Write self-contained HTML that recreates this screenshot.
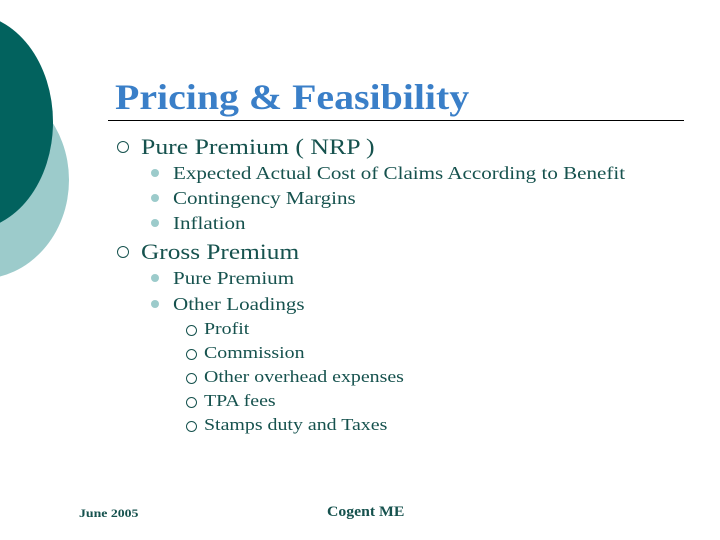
<!DOCTYPE html>
<html><head><meta charset="utf-8"><style>
body{margin:0}
#s{position:relative;width:720px;height:540px;background:#fff;overflow:hidden;font-family:"Liberation Serif",serif;color:#16524e}
.t{position:absolute;white-space:nowrap;line-height:1;transform-origin:0 0;transform:scaleX(1.17)}
.l1{font-size:22px}
.l2{font-size:18px}
.l3{font-size:17px}
.b1{position:absolute;width:10px;height:10px;border:1px solid #16524e;border-radius:50%}
.b2{position:absolute;width:8px;height:8px;background:#9ccbcb;border-radius:50%}
.b3{position:absolute;width:9px;height:9px;border:1px solid #16524e;border-radius:50%}
</style></head><body>
<div id="s">
<svg width="720" height="540" style="position:absolute;left:0;top:0">
<ellipse cx="-20" cy="180" rx="89" ry="99" fill="#9ccbcb"/>
<ellipse cx="-30" cy="122" rx="83" ry="108" fill="#02625e"/>
<line x1="108" y1="120.5" x2="684" y2="120.5" stroke="#000" stroke-width="1"/>
</svg>
<div class="t" style="left:115px;top:79px;font-size:36px;font-weight:bold;color:#3a7fc8;transform:scaleX(1.107)">Pricing &amp; Feasibility</div>
<div class="b1" style="left:117px;top:141px"></div>
<div class="t l1" style="left:141px;top:136px">Pure Premium ( NRP )</div>
<div class="b2" style="left:151px;top:169px"></div>
<div class="t l2" style="left:173px;top:164px">Expected Actual Cost of Claims According to Benefit</div>
<div class="b2" style="left:151px;top:194px"></div>
<div class="t l2" style="left:173px;top:189px">Contingency Margins</div>
<div class="b2" style="left:151px;top:219px"></div>
<div class="t l2" style="left:173px;top:214px">Inflation</div>
<div class="b1" style="left:117px;top:246px"></div>
<div class="t l1" style="left:141px;top:241px;transform:scaleX(1.15)">Gross Premium</div>
<div class="b2" style="left:151px;top:274px"></div>
<div class="t l2" style="left:173px;top:269px">Pure Premium</div>
<div class="b2" style="left:151px;top:300px"></div>
<div class="t l2" style="left:173px;top:295px">Other Loadings</div>
<div class="b3" style="left:186px;top:325px"></div>
<div class="t l3" style="left:204px;top:320px">Profit</div>
<div class="b3" style="left:186px;top:349px"></div>
<div class="t l3" style="left:204px;top:344px">Commission</div>
<div class="b3" style="left:186px;top:373px"></div>
<div class="t l3" style="left:204px;top:368px">Other overhead expenses</div>
<div class="b3" style="left:186px;top:397px"></div>
<div class="t l3" style="left:204px;top:392px">TPA fees</div>
<div class="b3" style="left:186px;top:421px"></div>
<div class="t l3" style="left:204px;top:416px">Stamps duty and Taxes</div>
<div class="t" style="left:79px;top:507px;font-size:12px;font-weight:bold;transform:scaleX(1.15)">June 2005</div>
<div class="t" style="left:327px;top:505px;font-size:15px;font-weight:bold;transform:scaleX(1.05)">Cogent ME</div>
</div>
</body></html>
